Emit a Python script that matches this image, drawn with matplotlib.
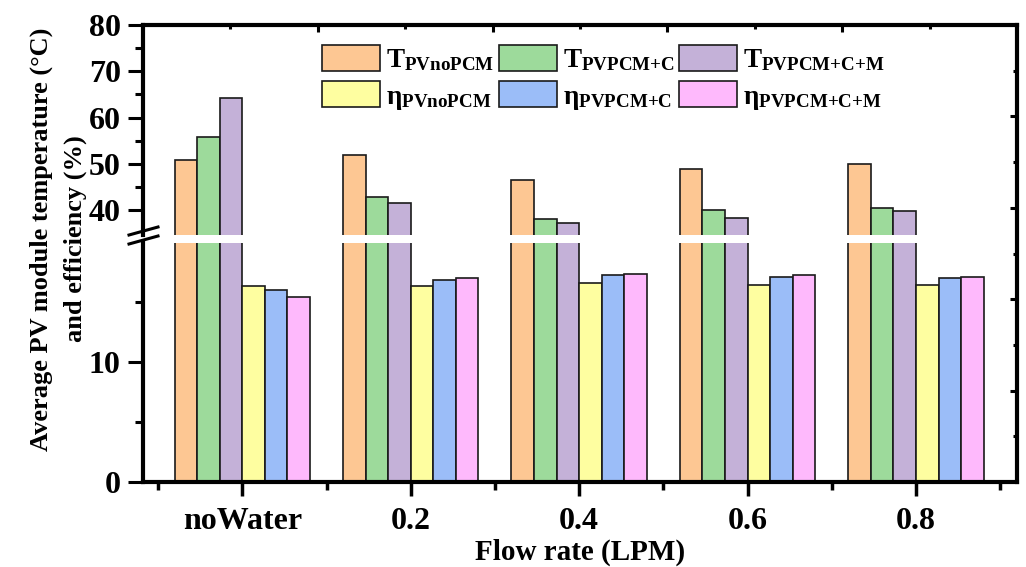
import matplotlib.pyplot as plt
import numpy as np
from matplotlib.lines import Line2D

# categories (flow rate) and series values
categories = ['noWater', '0.2', '0.4', '0.6', '0.8']
t_nopcm = [50.8, 52.0, 46.5, 48.8, 50.0]
t_pcm_c = [55.7, 42.8, 38.0, 40.0, 40.4]
t_pcm_cm = [64.2, 41.5, 37.2, 38.3, 39.7]
eta_nopcm = [16.3, 16.3, 16.6, 16.4, 16.4]
eta_pcm_c = [16.0, 16.8, 17.2, 17.1, 17.0]
eta_pcm_cm = [15.4, 17.0, 17.3, 17.2, 17.1]

series = [t_nopcm, t_pcm_c, t_pcm_cm, eta_nopcm, eta_pcm_c, eta_pcm_cm]
labels = [r'$\mathbf{T_{PVnoPCM}}$', r'$\mathbf{T_{PVPCM{+}C}}$', r'$\mathbf{T_{PVPCM{+}C{+}M}}$',
          r'$\mathbf{η_{PVnoPCM}}$', r'$\mathbf{η_{PVPCM{+}C}}$', r'$\mathbf{η_{PVPCM{+}C{+}M}}$']
colors = ['#fdc793', '#9dda9b', '#c4b1d8', '#fefea0', '#9bbdf8', '#feb9fc']

plt.rcParams['font.family'] = 'serif'
plt.rcParams['font.serif'] = ['Liberation Serif']
plt.rcParams['font.weight'] = 'bold'
plt.rcParams['mathtext.fontset'] = 'custom'
plt.rcParams['mathtext.rm'] = 'Liberation Serif:bold'
plt.rcParams['mathtext.bf'] = 'Liberation Serif:bold'

W, H = 1026, 567
fig = plt.figure(figsize=(W / 100, H / 100), dpi=100)


def rect(x0, y0, x1, y1):
    return [x0 / W, 1 - y1 / H, (x1 - x0) / W, (y1 - y0) / H]


ax_hi = fig.add_axes(rect(143, 25, 1017, 235))
ax_lo = fig.add_axes(rect(143, 243, 1017, 482))

x = np.arange(len(categories))
w = 0.134
handles = []
for k, (vals, c, lab) in enumerate(zip(series, colors, labels)):
    pos = x + (k - 2.5) * w
    b = ax_hi.bar(pos, vals, w, color=c, edgecolor='#1a1a1a', linewidth=1.2, label=lab)
    ax_lo.bar(pos, vals, w, color=c, edgecolor='#1a1a1a', linewidth=1.2)
    handles.append(b)

lw = 3
for ax in (ax_hi, ax_lo):
    ax.set_xlim(-0.59, 4.6)
    ax.patch.set_visible(False)
    for s in ('top', 'right'):
        ax.spines[s].set_visible(False)
    ax.spines['left'].set_linewidth(lw)
    ax.spines['bottom'].set_linewidth(lw)
    ax.tick_params(axis='y', which='major', direction='out', length=11, width=2.2,
                   labelsize=23, pad=5)
    ax.tick_params(axis='y', which='minor', direction='out', length=6, width=2.2)

ax_hi.set_ylim(34.6, 80)
ax_hi.set_yticks([40, 50, 60, 70, 80])
ax_hi.set_yticks([45, 55, 65, 75], minor=True)
ax_hi.spines['bottom'].set_visible(False)
ax_hi.tick_params(axis='x', which='both', bottom=False, labelbottom=False)

ax_lo.set_ylim(0, 19.9)
ax_lo.set_yticks([0, 10])
ax_lo.set_yticks([5, 15], minor=True)
ax_lo.set_xticks(x)
ax_lo.set_xticklabels(categories)
ax_lo.set_xticks(np.arange(-0.5, 5, 1), minor=True)
ax_lo.tick_params(axis='x', which='major', direction='out', length=10, width=2.5,
                  labelsize=23, pad=8)
ax_lo.tick_params(axis='x', which='minor', direction='out', length=6, width=2.5)
ax_lo.set_xlabel('Flow rate (LPM)', fontsize=21, fontweight='bold', labelpad=2)

# frame with top and right spines, inward ticks on a 0-1 scale
ax_frame = fig.add_axes(rect(143, 25, 1017, 482))
ax_frame.patch.set_visible(False)
ax_frame.set_xlim(0, 1)
ax_frame.set_ylim(0, 1)
for s in ('left', 'bottom'):
    ax_frame.spines[s].set_visible(False)
for s in ('top', 'right'):
    ax_frame.spines[s].set_linewidth(lw)
ax_frame.set_xticks([0.2, 0.4, 0.6, 0.8])
ax_frame.set_xticks([0.1, 0.3, 0.5, 0.7, 0.9], minor=True)
ax_frame.set_yticks([0.2, 0.4, 0.6, 0.8])
ax_frame.set_yticks([0.1, 0.3, 0.5, 0.7, 0.9], minor=True)
ax_frame.tick_params(which='both', direction='in', bottom=False, left=False,
                     top=True, right=True, labelbottom=False, labelleft=False, width=2.2)
ax_frame.tick_params(which='major', length=5)
ax_frame.tick_params(which='minor', length=3)

# axis break marks
for y0 in (235, 244):
    fig.add_artist(Line2D([129 / W, 158 / W], [1 - y0 / H, 1 - (y0 - 8) / H],
                          color='black', linewidth=2.2, transform=fig.transFigure))

order = [0, 3, 1, 4, 2, 5]
ax_hi.legend([handles[i] for i in order], [labels[i] for i in order], ncol=3,
             loc='upper left', bbox_to_anchor=(322 / W, 1 - 45 / H),
             bbox_transform=fig.transFigure, frameon=False, fontsize=19.5,
             handlelength=2.15, handleheight=1.1, handletextpad=0.22,
             columnspacing=0.15, labelspacing=0.3, borderpad=0, borderaxespad=0)

fig.text(58 / W, 1 - 239 / H, 'Average PV module temperature (°C)\nand efficiency (%)',
         rotation=90, ha='center', va='center', multialignment='center',
         fontsize=19, fontweight='bold', linespacing=1.6)

fig.savefig('out.png', dpi=100)
